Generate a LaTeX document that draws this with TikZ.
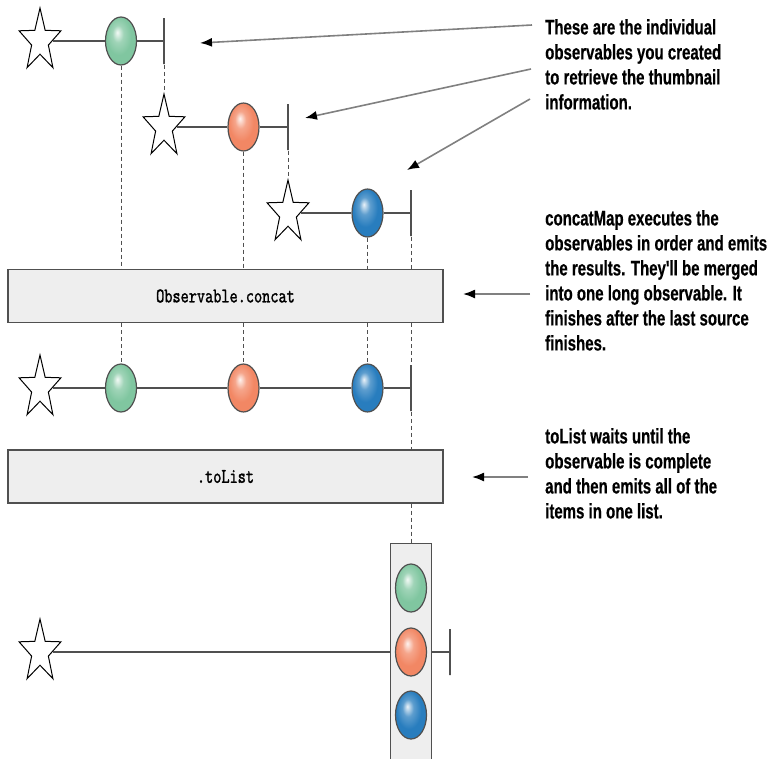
\documentclass[tikz,border=0pt]{standalone}
\usepackage{fontspec}
\setmainfont{Liberation Sans}
\newfontfamily\notefont{Liberation Sans}[FakeStretch=0.715,FakeBold=0.5]
\newfontfamily\codefont{lmmono10-regular.otf}[FakeStretch=0.74,FakeBold=1.2]
\usetikzlibrary{shapes.geometric,arrows.meta}

\definecolor{beadgreen}{RGB}{128,198,160}
\definecolor{beadorange}{RGB}{242,135,100}
\definecolor{beadblue}{RGB}{40,125,190}
\definecolor{boxgray}{RGB}{238,238,238}
\definecolor{linegray}{RGB}{80,80,80}
\definecolor{arrowgray}{RGB}{128,128,128}

%shading for the marbles, light spot up left
\makeatletter
\pgfdeclareradialshading[tikz@ball]{bead}{\pgfpoint{-6bp}{9bp}}{%
  color(0bp)=(tikz@ball!10!white); color(9bp)=(tikz@ball!75!white);
  color(20bp)=(tikz@ball); color(50bp)=(tikz@ball)}
\makeatother

\begin{document}
\begin{tikzpicture}[x=1pt,y=-1pt,
    timeline/.style={draw=linegray,line width=1.8pt},
    drop/.style={draw=linegray,line width=1pt,dash pattern=on 4pt off 3pt},
    startstar/.style={star,star points=5,star point ratio=2.5,minimum size=44pt,
        inner sep=0pt,draw=black,fill=white,line width=1pt,yscale=1.5},
    bead/.style={ellipse,minimum width=31pt,minimum height=48pt,inner sep=0pt,
        draw=linegray,line width=1.2pt,ball color=#1,shading=bead},
    endtick/.style={draw=linegray,line width=1.6pt,minimum width=0pt,
        minimum height=46pt,inner sep=0pt},
    opbox/.style={draw=linegray,fill=boxgray,line width=1.3pt,inner sep=0pt,
        minimum width=435pt,minimum height=53pt,
        font=\codefont\fontsize{21}{21}\selectfont},
    note/.style={anchor=north west,inner sep=0pt,align=left,
        font=\notefont\bfseries\fontsize{21}{25}\selectfont},
    pointer/.style={draw=arrowgray,line width=1.6pt,
        -{Latex[length=12pt,width=9pt,color=black]}}]

\clip (0,0) rectangle (768,758);

%draw the three source observables
    \node[startstar] (s1) at (40,41) {};
    \node[bead=beadgreen] (g1) at (121,41) {};
    \node[endtick] (e1) at (164,41) {};
    \draw[timeline] (s1) -- (g1) -- (e1);

    \node[startstar] (s2) at (164,127) {};
    \node[bead=beadorange] (o2) at (243.5,127) {};
    \node[endtick] (e2) at (288,127) {};
    \draw[timeline] (s2) -- (o2) -- (e2);

    \node[startstar] (s3) at (288,213) {};
    \node[bead=beadblue] (b3) at (367.5,213) {};
    \node[endtick] (e3) at (411,213) {};
    \draw[timeline] (s3) -- (b3) -- (e3);

    \draw[drop] (e1.south) -- (s2.north);
    \draw[drop] (e2.south) -- (s3.north);

%draw operator boxes
    \node[opbox] (concat) at (225.5,296) {Observable.concat};
    \node[opbox] (tolist) at (225.5,476.5) {.toList};

    \foreach \a in {g1,o2,b3,e3}
    \draw[drop] (\a.south) -- (\a.south |- concat.north);

%draw the concatenated observable
    \node[startstar] (s4) at (40,388) {};
    \node[bead=beadgreen] (g4) at (121,388) {};
    \node[bead=beadorange] (o4) at (243.5,388) {};
    \node[bead=beadblue] (b4) at (367.5,388) {};
    \node[endtick] (e4) at (411,388) {};
    \draw[timeline] (s4) -- (g4) -- (o4) -- (b4) -- (e4);

    \foreach \a in {g4,o4,b4,e4}
    \draw[drop] (concat.south -| \a) -- (\a.north);
    \draw[drop] (e4.south) -- (tolist.north -| e4);

%draw the list observable
    \node[startstar] (s5) at (40,652) {};
    \node[endtick] (e5) at (450,652) {};
    \draw[timeline] (s5) -- (e5);
    \node[opbox,minimum width=41pt,minimum height=235pt,anchor=north] (list) at (411,543) {};
    \node[bead=beadgreen] (g5) at (411,588) {};
    \node[bead=beadorange] (o5) at (411,652) {};
    \node[bead=beadblue] (b5) at (411,715) {};
    \draw[drop] (tolist.south -| e4) -- (list.north -| e4);

%    notes on the right
    \node[note] (n1) at (545,19) {These are the individual\\observables you created\\to retrieve the thumbnail\\information.};
    \node[note] (n2) at (545,210) {concatMap executes the\\observables in order and emits\\the results. They'll be merged\\into one long observable. It\\finishes after the last source\\finishes.};
    \node[note] (n3) at (545,428) {toList waits until the\\observable is complete\\and then emits all of the\\items in one list.};

%draw arrows
    \coordinate (a1from) at (532,25);  \coordinate (a1to) at (200,43);
    \coordinate (a2from) at (531,69);  \coordinate (a2to) at (305,118);
    \coordinate (a3from) at (530,99);  \coordinate (a3to) at (407,170);
    \coordinate (a4from) at (530,294); \coordinate (a4to) at (463,294);
    \coordinate (a5from) at (528,477); \coordinate (a5to) at (472,477);
    \foreach \i in {1,...,5}
    \draw[pointer] (a\i from) -- (a\i to);

\end{tikzpicture}
\end{document}
